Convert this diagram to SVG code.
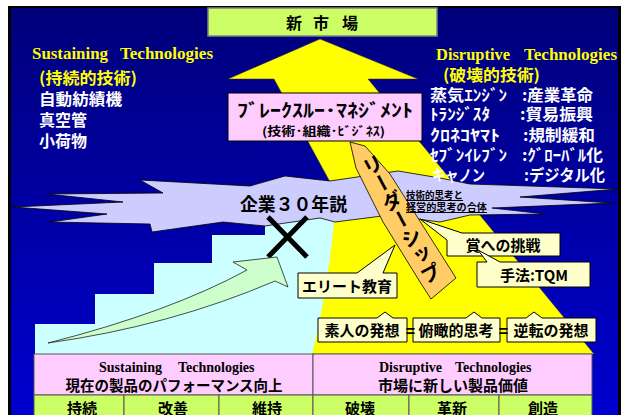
<svg xmlns="http://www.w3.org/2000/svg" width="627" height="415" viewBox="0 0 627 415">
<defs>
<linearGradient id="bg" x1="0" y1="0" x2="0" y2="1">
<stop offset="0" stop-color="#00007a"/>
<stop offset="1" stop-color="#0000d0"/>
</linearGradient>
<style>
.jp{font-family:"Noto Sans CJK JP","Noto Sans",sans-serif;font-weight:700}
.en{font-family:"Liberation Serif",serif;font-weight:700}
.yel{fill:#ffff00}
.wht{fill:#ffffff}
.blk{fill:#000000}
.co{fill:#ffffcc;stroke:#000;stroke-width:1}
.cell{stroke:#555;stroke-width:1}
</style>
</defs>
<rect x="0" y="0" width="627" height="415" fill="#ffffff"/>
<rect x="8" y="6" width="613" height="409" fill="#000"/>
<rect x="11" y="8" width="607" height="407" fill="url(#bg)"/>

<g id="market-arrow">
<polygon points="320,39 418,79 368,79 594,354 305,354 335,215 330,182 274,79 228,79" fill="#ffff00" stroke="#333" stroke-width="0.5"/>
</g>

<g id="sustaining-stairs">
<path d="M35,355 V324 H95 V294 H154 V263 H212 V235 H265 V215 L335,212 Q328,290 312,355 Z" fill="#ccffff"/>
</g>

<g id="cloud">
<polygon points="140,180 250,186 285,176 330,181 398,171 440,178 470,184 618,189 520,197 612,203 492,208 545,214 470,215 440,222 425,220 390,215 335,222 320,218 265,226 223,222 152,232 150,224 50,222 107,214 13,207 123,202 47,194 163,193" fill="#ccccff" stroke="#000" stroke-width="0.8" stroke-linejoin="miter"/>
<text class="jp blk" x="240" y="211" font-size="18" textLength="107" lengthAdjust="spacingAndGlyphs">企業３０年説</text>
</g>

<g id="cross">
<line x1="268" y1="217" x2="307" y2="257" stroke="#000" stroke-width="5"/>
<line x1="307" y1="217" x2="268" y2="257" stroke="#000" stroke-width="5"/>
</g>

<g id="growth-arrow">
<path d="M48,343 Q170,312 247,270 L233,262 L277,257 L288,287 L275,281 Q170,326 48,343 Z" fill="#ccffcc" stroke="#222" stroke-width="0.8"/>
</g>

<g id="leadership">
<polygon points="350,142 365,146 390,174 456,278 431,299 420,282 383,222 356,168" fill="#ffcc66" stroke="#000" stroke-width="0.8"/>
<text class="jp blk" x="0" y="0" font-size="20" style="writing-mode:vertical-rl" letter-spacing="0.5" transform="translate(368,156) rotate(-28)">リーダーシップ</text>
</g>

<g id="fusion-note">
<text class="jp blk" x="406" y="199" font-size="10" text-decoration="underline" textLength="57" lengthAdjust="spacingAndGlyphs">技術的思考と</text>
<text class="jp blk" x="406" y="211" font-size="10" text-decoration="underline" textLength="81" lengthAdjust="spacingAndGlyphs">経営的思考の合体</text>
</g>

<g id="breakthrough">
<rect x="228" y="93" width="194" height="48" fill="#ffccff" stroke="#000" stroke-width="1"/>
<text class="jp blk" x="237" y="117" font-size="18" textLength="176" lengthAdjust="spacingAndGlyphs">ﾌﾞﾚｰｸｽﾙｰ･ﾏﾈｼﾞﾒﾝﾄ</text>
<text class="jp blk" x="262" y="136" font-size="12" textLength="123" lengthAdjust="spacingAndGlyphs">(技術･組織･ﾋﾞｼﾞﾈｽ)</text>
</g>

<g id="new-market">
<rect x="208" y="8" width="229" height="28" fill="#ccff66" stroke="#808080" stroke-width="1.5"/>
<text class="jp blk" x="286 313 342" y="29" font-size="16">新市場</text>
</g>

<g id="sustaining-list">
<text class="en yel" y="59" font-size="16"><tspan x="32" textLength="76" lengthAdjust="spacingAndGlyphs">Sustaining</tspan><tspan x="120" textLength="93" lengthAdjust="spacingAndGlyphs">Technologies</tspan></text>
<text class="jp yel" x="39" y="84" font-size="16" textLength="98" lengthAdjust="spacingAndGlyphs">(持続的技術)</text>
<text class="jp wht" x="39" y="105" font-size="16" textLength="83" lengthAdjust="spacingAndGlyphs">自動紡績機</text>
<text class="jp wht" x="39" y="126" font-size="16" textLength="48" lengthAdjust="spacingAndGlyphs">真空管</text>
<text class="jp wht" x="39" y="147" font-size="16" textLength="48" lengthAdjust="spacingAndGlyphs">小荷物</text>
</g>

<g id="disruptive-list">
<text class="en yel" y="60" font-size="16"><tspan x="436" textLength="74" lengthAdjust="spacingAndGlyphs">Disruptive</tspan><tspan x="524" textLength="93" lengthAdjust="spacingAndGlyphs">Technologies</tspan></text>
<text class="jp yel" x="443" y="81" font-size="16" textLength="97" lengthAdjust="spacingAndGlyphs">(破壊的技術)</text>
<text class="jp wht" x="430" y="101" font-size="16" textLength="77" lengthAdjust="spacingAndGlyphs">蒸気ｴﾝｼﾞﾝ</text>
<text class="jp wht" x="522" y="101" font-size="16" textLength="71" lengthAdjust="spacingAndGlyphs">:産業革命</text>
<text class="jp wht" x="430" y="120" font-size="16" textLength="60" lengthAdjust="spacingAndGlyphs">ﾄﾗﾝｼﾞｽﾀ</text>
<text class="jp wht" x="520" y="120" font-size="16" textLength="73" lengthAdjust="spacingAndGlyphs">:貿易振興</text>
<text class="jp wht" x="430" y="141" font-size="16" textLength="70" lengthAdjust="spacingAndGlyphs">ｸﾛﾈｺﾔﾏﾄ</text>
<text class="jp wht" x="523" y="141" font-size="16" textLength="72" lengthAdjust="spacingAndGlyphs">:規制緩和</text>
<text class="jp wht" x="430" y="161" font-size="16" textLength="77" lengthAdjust="spacingAndGlyphs">ｾﾌﾞﾝｲﾚﾌﾞﾝ</text>
<text class="jp wht" x="522" y="161" font-size="16" textLength="81" lengthAdjust="spacingAndGlyphs">:ｸﾞﾛｰﾊﾞﾙ化</text>
<text class="jp wht" x="432" y="181" font-size="16" textLength="53" lengthAdjust="spacingAndGlyphs">キャノン</text>
<text class="jp wht" x="524" y="181" font-size="16" textLength="81" lengthAdjust="spacingAndGlyphs">:デジタル化</text>
</g>

<g id="elite">
<path class="co" d="M298,273 H357 L395,245 L383,273 H397 V298 H298 Z"/>
<text class="jp blk" x="347" y="292" font-size="15" text-anchor="middle">エリート教育</text>
</g>

<g id="prize">
<path class="co" d="M462,233 H560 V256 H447 V240 L420,219 Z"/>
<text class="jp blk" x="503" y="251" font-size="15" text-anchor="middle">賞への挑戦</text>
</g>

<g id="tqm">
<path class="co" d="M477,262 H487 L478,250 L500,262 H590 V287 H477 Z"/>
<text class="jp blk" x="534" y="281" font-size="15" text-anchor="middle">手法:TQM</text>
</g>

<g id="amateur">
<path class="co" d="M318,318 H377 L385,312 L393,318 H407 V342 H318 Z"/>
<text class="jp blk" x="362" y="336" font-size="15" text-anchor="middle">素人の発想</text>
</g>
<g id="overview">
<path class="co" d="M413,318 H466 L474,312 L482,318 H500 V342 H413 Z"/>
<text class="jp blk" x="456" y="336" font-size="15" text-anchor="middle">俯瞰的思考</text>
</g>
<g id="reverse">
<path class="co" d="M507,318 H526 L534,312 L542,318 H596 V342 H507 Z"/>
<text class="jp blk" x="551" y="336" font-size="15" text-anchor="middle">逆転の発想</text>
</g>
<g id="equals">
<text class="jp blk" x="410.5" y="337" font-size="16" text-anchor="middle">=</text>
<text class="jp blk" x="503.5" y="337" font-size="16" text-anchor="middle">=</text>
</g>

<g id="table">
<rect class="cell" x="34" y="354" width="279" height="41" fill="#ffccff"/>
<rect class="cell" x="313" y="354" width="279" height="41" fill="#ffccff"/>
<text class="en blk" y="372" font-size="14" font-weight="400"><tspan x="99">Sustaining</tspan><tspan x="178">Technologies</tspan></text>
<text class="jp blk" x="174" y="391" font-size="14.5" text-anchor="middle">現在の製品のパフォーマンス向上</text>
<text class="en blk" y="372" font-size="14" font-weight="400"><tspan x="379">Disruptive</tspan><tspan x="455">Technologies</tspan></text>
<text class="jp blk" x="453" y="391" font-size="15" text-anchor="middle">市場に新しい製品価値</text>
<rect class="cell" x="34" y="395" width="90" height="25" fill="#ccff66"/>
<rect class="cell" x="124" y="395" width="95" height="25" fill="#ccff66"/>
<rect class="cell" x="219" y="395" width="94" height="25" fill="#ccff66"/>
<rect class="cell" x="313" y="395" width="96" height="25" fill="#ccff66"/>
<rect class="cell" x="409" y="395" width="90" height="25" fill="#ccff66"/>
<rect class="cell" x="499" y="395" width="93" height="25" fill="#ccff66"/>
<text class="jp blk" x="82" y="414" font-size="15" text-anchor="middle">持続</text>
<text class="jp blk" x="173" y="414" font-size="15" text-anchor="middle">改善</text>
<text class="jp blk" x="267" y="414" font-size="15" text-anchor="middle">維持</text>
<text class="jp blk" x="360" y="414" font-size="15" text-anchor="middle">破壊</text>
<text class="jp blk" x="452" y="414" font-size="15" text-anchor="middle">革新</text>
<text class="jp blk" x="543" y="414" font-size="15" text-anchor="middle">創造</text>
</g>
</svg>
